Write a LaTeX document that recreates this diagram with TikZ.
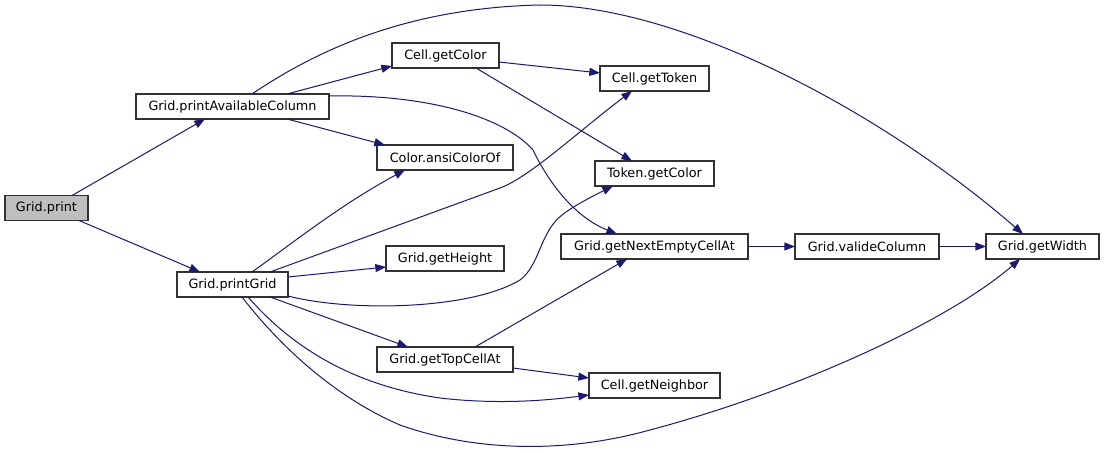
\documentclass[tikz,border=0pt]{standalone}
\usepackage{fontspec}
\setmainfont{DejaVu Sans}
\usetikzlibrary{arrows.meta,calc}
\definecolor{edgeblue}{RGB}{25,25,112}
\definecolor{boxline}{RGB}{50,50,50}
\definecolor{rootfill}{RGB}{191,191,191}
\begin{document}
\begin{tikzpicture}[x=0.75pt,y=-0.75pt,
  fn/.style={draw=boxline,line width=0.85pt,fill=white,inner sep=0pt,outer sep=0pt,
    minimum height=25*0.75pt,minimum width=#1*0.75pt,
    font=\fontsize{9.6}{11}\selectfont},
  edge/.style={draw=edgeblue,line width=0.75pt,
    -{Triangle[length=8pt,width=6pt]}}]
\useasboundingbox (0,0) rectangle (1104,453);
% nodes
\node[fn=83,fill=rootfill] (print) at (46.5,208) {Grid.print};
\node[fn=193] (pac) at (232.5,106.5) {Grid.printAvailableColumn};
\node[fn=111] (pg) at (232.5,284.5) {Grid.printGrid};
\node[fn=107] (cgc) at (445.5,55.5) {Cell.getColor};
\node[fn=136] (cao) at (445,157.5) {Color.ansiColorOf};
\node[fn=118] (gh) at (445,258.5) {Grid.getHeight};
\node[fn=136] (gtc) at (445,359.5) {Grid.getTopCellAt};
\node[fn=109] (cgt) at (654.5,78.5) {Cell.getToken};
\node[fn=119] (tgc) at (654.5,173.5) {Token.getColor};
\node[fn=187] (gne) at (654.5,246.5) {Grid.getNextEmptyCellAt};
\node[fn=131] (cgn) at (654.5,385.5) {Cell.getNeighbor};
\node[fn=144] (gvc) at (867,246.5) {Grid.valideColumn};
\node[fn=113] (gw) at (1042.5,246.5) {Grid.getWidth};
% edges
\draw[edge] ($(print)+(25.5,-12.5)$) -- ($(pac)+(-27.5,12.5)$);
\draw[edge] ($(print)+(32.5,12.5)$) -- ($(pg)+(-32.5,-12.5)$);
\draw[edge] ($(pac)+(54.5,-12.5)$) -- ($(cgc)+(-53.5,10.5)$);
\draw[edge] ($(pac)+(19.5,-12.5)$) .. controls (310,55) and (400,8) .. (540,5)
  .. controls (680,5) and (880,110) .. ($(gw)+(-19.5,-12.5)$);
\draw[edge] ($(pac)+(96.5,-10.5)$) .. controls (430,94) and (505,118) .. (533,150)
  .. controls (545,175) and (570,215) .. ($(gne)+(-37.5,-12.5)$);
\draw[edge] ($(pac)+(54.5,12.5)$) -- ($(cao)+(-60,-12.5)$);
\draw[edge] ($(pg)+(19.5,-12.5)$) .. controls (290,245) and (340,205) .. ($(cao)+(-40,12.5)$);
\draw[edge] ($(pg)+(37.5,-12.5)$) -- (500,188) .. controls (530,177) and (580,130) .. ($(cgt)+(-22.5,12.5)$);
\draw[edge] ($(pg)+(55.5,-7.5)$) -- ($(gh)+(-59,8.5)$);
\draw[edge] ($(pg)+(55.5,11.5)$) .. controls (350,312) and (470,310) .. (520,280)
  .. controls (540,265) and (540,232) .. (562,215)
  .. controls (575,205) and (595,195) .. ($(tgc)+(-41.5,12.5)$);
\draw[edge] ($(pg)+(37.5,12.5)$) -- ($(gtc)+(-37,-12.5)$);
\draw[edge] ($(pg)+(15.5,12.5)$) .. controls (290,345) and (350,385) .. (440,398)
  .. controls (500,405) and (550,400) .. ($(cgn)+(-65.5,9.5)$);
\draw[edge] ($(pg)+(9.5,12.5)$) .. controls (275,340) and (330,395) .. (400,425)
  .. controls (470,450) and (560,455) .. (650,430)
  .. controls (800,390) and (950,320) .. ($(gw)+(-22.5,12.5)$);
\draw[edge] ($(gtc)+(30,-12.5)$) -- ($(gne)+(-27.5,12.5)$);
\draw[edge] ($(gtc)+(68,8.5)$) -- ($(cgn)+(-65.5,-7.5)$);
\draw[edge] ($(cgc)+(53.5,6.5)$) -- ($(cgt)+(-54.5,-5.5)$);
\draw[edge] ($(cgc)+(30.5,12.5)$) -- ($(tgc)+(-22.5,-12.5)$);
\draw[edge] (gne.east) -- (gvc.west);
\draw[edge] (gvc.east) -- (gw.west);
\end{tikzpicture}
\end{document}
